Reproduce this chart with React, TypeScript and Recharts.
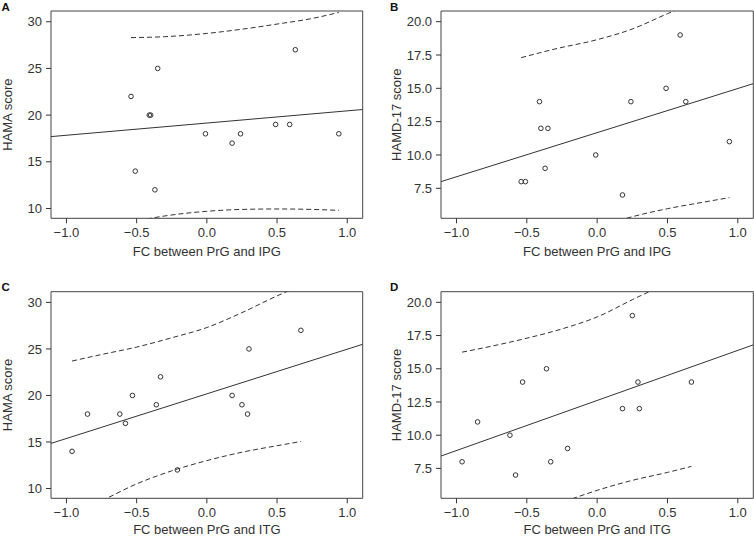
import React from "react";
import { ComposedChart, Scatter, Line, XAxis, YAxis, ReferenceArea } from "recharts";

// FC values (x) shared by the two upper panels and by the two lower panels
const fcIpg = [-0.54, -0.51, -0.41, -0.4, -0.37, -0.35, -0.01, 0.18, 0.24, 0.49, 0.59, 0.63, 0.94];
const fcItg = [-0.96, -0.85, -0.62, -0.58, -0.53, -0.36, -0.33, -0.21, 0.18, 0.25, 0.29, 0.3, 0.67];

// scores per panel
const hamaA = [22, 14, 20, 20, 12, 25, 18, 17, 18, 19, 19, 27, 18];
const hamdB = [8, 8, 14, 12, 9, 12, 10, 7, 14, 15, 19, 14, 11];
const hamaC = [14, 18, 18, 17, 20, 19, 22, 12, 20, 19, 18, 25, 27];
const hamdD = [8, 11, 10, 7, 14, 15, 8, 9, 12, 19, 14, 12, 14];

// fitted line, read at the left / right edge of each frame
const fitX = [-1.11, 1.11];
const fitA = [17.7, 20.6];
const fitB = [8.0, 15.35];
const fitC = [14.85, 25.5];
const fitD = [8.43, 16.8];

// dashed interval curves
const bandIpgX = [-0.54, -0.3, 0, 0.25, 0.5, 0.75, 0.94];
const upperA = [28.3, 28.4, 28.75, 29.2, 29.75, 30.35, 31.0];
const lowerA = [8.55, 9.2, 9.7, 9.9, 9.95, 9.9, 9.8];
const upperB = [17.3, 17.95, 18.65, 19.45, 20.6, 21.7, 22.8];
const lowerB = [2.5, 3.7, 4.6, 5.37, 5.97, 6.45, 6.8];

const bandItgX = [-0.96, -0.75, -0.5, -0.25, 0, 0.25, 0.5, 0.67];
const upperC = [23.7, 24.4, 25.2, 26.2, 27.3, 28.9, 30.7, 31.8];
const lowerC = [7.45, 8.7, 10.5, 11.9, 13.0, 13.9, 14.6, 15.05];
const upperD = [16.25, 16.7, 17.3, 18.0, 18.9, 20.2, 21.5, 22.6];
const lowerD = [1.7, 3.0, 4.1, 4.95, 5.85, 6.6, 7.2, 7.65];

const xTicks = [-1, -0.5, 0, 0.5, 1];
const hamaTicks = [10, 15, 20, 25, 30];
const hamdTicks = [7.5, 10, 12.5, 15, 17.5, 20];

const X_DOMAIN: [number, number] = [-1.11, 1.11];
const HAMA_DOMAIN: [number, number] = [8.95, 31.15];
const HAMD_DOMAIN: [number, number] = [5.25, 20.8];

const INK = "#333";
const FONT = 13;

const zip = (xs: number[], ys: number[]) => xs.map((x, i) => ({ x, y: ys[i] }));

const fmtX = (v: number) => (v < 0 ? "\u2212" + Math.abs(v).toFixed(1) : v.toFixed(1));
const fmtInt = (v: number) => String(v);
const fmtOne = (v: number) => v.toFixed(1);

const ring = (p: any) => (
  <circle cx={p.cx} cy={p.cy} r={2.3} fill="none" stroke={INK} strokeWidth={1} />
);

interface PanelProps {
  left: number;
  top: number;
  height: number;
  margin: { top: number; right: number; bottom: number; left: number };
  yAxisWidth: number;
  yTitleOffset: number;
  xAxisHeight: number;
  xTitle: string;
  yTitle: string;
  yDomain: [number, number];
  yTicks: number[];
  yFmt: (v: number) => string;
  points: { x: number; y: number }[];
  fit: { x: number; y: number }[];
  upper: { x: number; y: number }[];
  lower: { x: number; y: number }[];
}

function Panel(p: PanelProps) {
  return (
    <div style={{ position: "absolute", left: p.left, top: p.top }}>
      <ComposedChart width={377} height={p.height} margin={p.margin}>
        <XAxis
          type="number"
          dataKey="x"
          domain={X_DOMAIN}
          allowDataOverflow
          ticks={xTicks}
          interval={0}
          tickFormatter={fmtX}
          axisLine={false}
          tickLine={{ stroke: INK }}
          tickSize={5}
          tickMargin={4}
          tick={{ fontSize: FONT, fill: INK }}
          height={p.xAxisHeight}
          label={{ value: p.xTitle, position: "insideBottom", offset: 2.3, fill: INK, fontSize: FONT }}
        />
        <YAxis
          type="number"
          dataKey="y"
          domain={p.yDomain}
          allowDataOverflow
          ticks={p.yTicks}
          interval={0}
          tickFormatter={p.yFmt}
          axisLine={false}
          tickLine={{ stroke: INK }}
          tickSize={5}
          tickMargin={4}
          tick={{ fontSize: FONT, fill: INK }}
          width={p.yAxisWidth}
          label={{
            value: p.yTitle,
            angle: -90,
            position: "insideLeft",
            offset: p.yTitleOffset,
            fill: INK,
            fontSize: FONT,
            style: { textAnchor: "middle" },
          }}
        />
        <ReferenceArea
          x1={X_DOMAIN[0]}
          x2={X_DOMAIN[1]}
          y1={p.yDomain[0]}
          y2={p.yDomain[1]}
          ifOverflow="visible"
          fill="none"
          fillOpacity={0}
          stroke="#444"
          strokeWidth={1}
        />
        <Line data={p.upper} dataKey="y" type="monotone" stroke={INK} strokeWidth={1} strokeDasharray="5 3" dot={false} activeDot={false} isAnimationActive={false} />
        <Line data={p.lower} dataKey="y" type="monotone" stroke={INK} strokeWidth={1} strokeDasharray="5 3" dot={false} activeDot={false} isAnimationActive={false} />
        <Line data={p.fit} dataKey="y" type="linear" stroke={INK} strokeWidth={1} dot={false} activeDot={false} isAnimationActive={false} />
        <Scatter data={p.points} dataKey="y" shape={ring} isAnimationActive={false} />
      </ComposedChart>
    </div>
  );
}

export default function App() {
  return (
    <div
      style={{
        position: "absolute",
        left: 0,
        top: 0,
        width: 754,
        height: 537,
        overflow: "hidden",
        background: "#fff",
        fontFamily: "'Liberation Sans', Arial, sans-serif",
      }}
    >
      <Panel
        left={0}
        top={0}
        height={268}
        margin={{ top: 11, right: 14.3, bottom: 9.7, left: 0 }}
        yAxisWidth={51}
        yTitleOffset={7.5}
        xAxisHeight={40}
        xTitle="FC between PrG and IPG"
        yTitle="HAMA score"
        yDomain={HAMA_DOMAIN}
        yTicks={hamaTicks}
        yFmt={fmtInt}
        points={zip(fcIpg, hamaA)}
        fit={zip(fitX, fitA)}
        upper={zip(bandIpgX, upperA)}
        lower={zip(bandIpgX, lowerA)}
      />
      <Panel
        left={377}
        top={0}
        height={268}
        margin={{ top: 11, right: 0.7, bottom: 9.7, left: 0 }}
        yAxisWidth={64}
        yTitleOffset={19}
        xAxisHeight={40}
        xTitle="FC between PrG and IPG"
        yTitle="HAMD-17 score"
        yDomain={HAMD_DOMAIN}
        yTicks={hamdTicks}
        yFmt={fmtOne}
        points={zip(fcIpg, hamdB)}
        fit={zip(fitX, fitB)}
        upper={zip(bandIpgX, upperB)}
        lower={zip(bandIpgX, lowerB)}
      />
      <Panel
        left={0}
        top={268}
        height={269}
        margin={{ top: 23.7, right: 14.3, bottom: 0.7, left: 0 }}
        yAxisWidth={51}
        yTitleOffset={7.5}
        xAxisHeight={38}
        xTitle="FC between PrG and ITG"
        yTitle="HAMA score"
        yDomain={HAMA_DOMAIN}
        yTicks={hamaTicks}
        yFmt={fmtInt}
        points={zip(fcItg, hamaC)}
        fit={zip(fitX, fitC)}
        upper={zip(bandItgX, upperC)}
        lower={zip(bandItgX, lowerC)}
      />
      <Panel
        left={377}
        top={268}
        height={269}
        margin={{ top: 23.7, right: 0.7, bottom: 0.7, left: 0 }}
        yAxisWidth={64}
        yTitleOffset={19}
        xAxisHeight={38}
        xTitle="FC between PrG and ITG"
        yTitle="HAMD-17 score"
        yDomain={HAMD_DOMAIN}
        yTicks={hamdTicks}
        yFmt={fmtOne}
        points={zip(fcItg, hamdD)}
        fit={zip(fitX, fitD)}
        upper={zip(bandItgX, upperD)}
        lower={zip(bandItgX, lowerD)}
      />
      <svg width={754} height={537} style={{ position: "absolute", left: 0, top: 0, pointerEvents: "none" }}>
        <g fontWeight="bold" fontSize={11.5} fill="#111">
          <text x={1.5} y={11}>A</text>
          <text x={390} y={11}>B</text>
          <text x={1.5} y={290.7}>C</text>
          <text x={390} y={290.7}>D</text>
        </g>
      </svg>
    </div>
  );
}
